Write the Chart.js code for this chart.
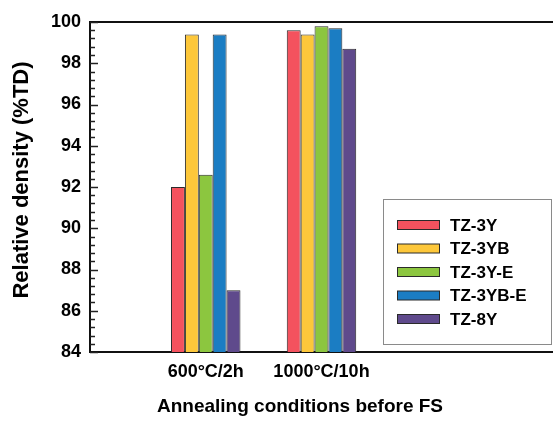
<!DOCTYPE html>
<html><head><meta charset="utf-8">
<script src="https://cdn.jsdelivr.net/npm/chart.js@4"></script>
<style>
html,body{margin:0;padding:0;background:#fff;overflow:hidden;width:553px;height:423px}
#wrap{width:553px;height:423px;overflow:hidden;position:relative}
canvas{display:block}
</style></head>
<body><div id="wrap"><canvas id="c" width="562" height="423"></canvas></div>
<script>
const categories = ['600°C/2h', '1000°C/10h'];
const seriesNames = ['TZ-3Y', 'TZ-3YB', 'TZ-3Y-E', 'TZ-3YB-E', 'TZ-8Y'];
const tz3y   = [92.0, 99.6];
const tz3yb  = [99.4, 99.4];
const tz3yE  = [92.6, 99.8];
const tz3ybE = [99.4, 99.7];
const tz8y   = [87.0, 98.7];
const yTicks = [84, 86, 88, 90, 92, 94, 96, 98, 100];
const seriesColors = ['#F4525E', '#FDC73A', '#8CC63F', '#1B7DC3', '#5F4A8C'];

const FONT = "'Liberation Sans', Arial, sans-serif";
const allSeries = [tz3y, tz3yb, tz3yE, tz3ybE, tz8y];
const labels = ['', ...categories, '', ''];

const datasets = allSeries.map((vals, i) => ({
  label: seriesNames[i],
  data: [null, ...vals, null, null],
  backgroundColor: seriesColors[i],
  borderColor: '#2a2a2a',
  borderWidth: 1,
  barPercentage: 1,
  categoryPercentage: 0.6
}));

const framePlugin = {
  id: 'frame',
  afterDraw(chart) {
    const ctx = chart.ctx;
    const a = chart.chartArea;
    const y = chart.scales.y;
    ctx.save();
    ctx.strokeStyle = '#111';
    ctx.lineWidth = 2;
    ctx.beginPath();
    ctx.moveTo(a.left - 1, a.top);
    ctx.lineTo(a.right, a.top);
    ctx.stroke();
    // inward tick marks on y axis
    ctx.strokeStyle = '#222';
    ctx.lineWidth = 1.5;
    for (let i = 0; i < yTicks.length; i++) {
      const py = Math.round(y.getPixelForValue(yTicks[i])) + 0.5;
      ctx.beginPath();
      ctx.moveTo(a.left, py);
      ctx.lineTo(a.left + 8, py);
      ctx.stroke();
      if (i < yTicks.length - 1) {
        const step = (yTicks[i + 1] - yTicks[i]) / 5;
        for (let k = 1; k < 5; k++) {
          const pm = Math.round(y.getPixelForValue(yTicks[i] + k * step)) + 0.5;
          ctx.beginPath();
          ctx.moveTo(a.left, pm);
          ctx.lineTo(a.left + 5, pm);
          ctx.stroke();
        }
      }
    }
    // axis titles
    ctx.fillStyle = '#000';
    ctx.font = 'bold 22px ' + FONT;
    ctx.textAlign = 'center';
    ctx.textBaseline = 'alphabetic';
    ctx.save();
    ctx.translate(28, 180);
    ctx.rotate(-Math.PI / 2);
    ctx.fillText('Relative density (%TD)', 0, 0);
    ctx.restore();
    ctx.font = 'bold 19px ' + FONT;
    ctx.fillText('Annealing conditions before FS', 300, 412);
    // legend box
    ctx.strokeStyle = '#8a8a8a';
    ctx.lineWidth = 1;
    ctx.fillStyle = '#fff';
    ctx.fillRect(383.5, 199.5, 168, 145);
    ctx.strokeRect(383.5, 199.5, 168, 145);
    chart.data.datasets.forEach((ds, i) => {
      const cy = 225 + i * 23.5;
      ctx.fillStyle = ds.backgroundColor;
      ctx.fillRect(397.5, cy - 4.5, 42, 9);
      ctx.strokeStyle = '#2a2a2a';
      ctx.strokeRect(397.5, cy - 4.5, 42, 9);
      ctx.fillStyle = '#000';
      ctx.font = 'bold 17px ' + FONT;
      ctx.textAlign = 'left';
      ctx.textBaseline = 'middle';
      ctx.fillText(ds.label, 450, cy + 1);
    });
    ctx.restore();
  }
};

new Chart(document.getElementById('c'), {
  type: 'bar',
  data: { labels, datasets },
  options: {
    responsive: false,
    animation: false,
    layout: { padding: { top: 22, left: 0, right: 0, bottom: 0 } },
    plugins: { legend: { display: false }, tooltip: { enabled: false } },
    scales: {
      x: {
        offset: false,
        grid: { display: true, drawOnChartArea: false, drawTicks: false, color: 'rgba(0,0,0,0)' },
        border: { display: true, color: '#111', width: 2 },
        ticks: { autoSkip: false, maxRotation: 0, padding: 9, color: '#000', font: { family: FONT, size: 18, weight: 'bold' } },
        afterFit(s) { s.height = 71; }
      },
      y: {
        min: 84, max: 100,
        afterBuildTicks(s) { s.ticks = yTicks.map(v => ({ value: v })); },
        grid: { display: true, drawOnChartArea: false, drawTicks: false, color: 'rgba(0,0,0,0)' },
        border: { display: true, color: '#111', width: 2 },
        ticks: { padding: 9, color: '#000', font: { family: FONT, size: 18, weight: 'bold' } },
        afterFit(s) { s.width = 90; }
      }
    }
  },
  plugins: [framePlugin]
});
</script>
</body></html>
